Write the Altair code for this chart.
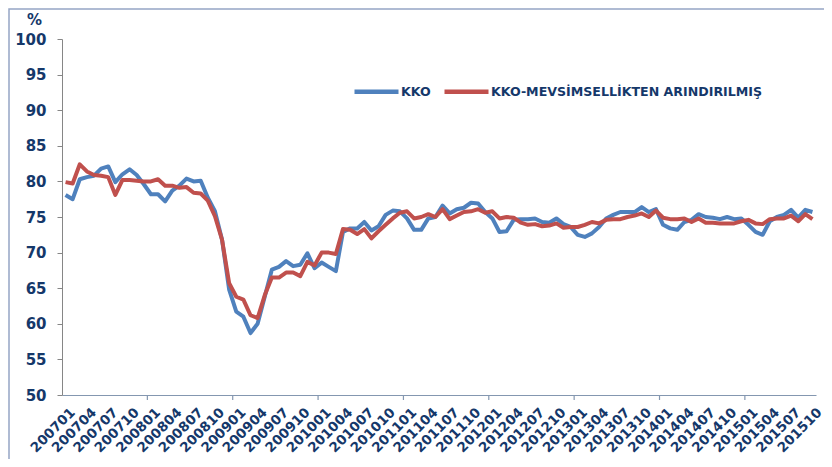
import altair as alt
import pandas as pd

months = [f"{y}{m:02d}" for y in range(2007, 2016) for m in range(1, 13)][:106]
label_months = months[::3]
tick_months = months[11::12]

kko = [
    78.1, 77.5, 80.3, 80.6, 80.8, 81.8, 82.1, 79.9, 81.0, 81.7, 80.9, 79.6,
    78.2, 78.2, 77.2, 78.7, 79.4, 80.4, 80.0, 80.1, 77.7, 75.8, 71.8, 64.8,
    61.7, 61.0, 58.7, 60.0, 63.8, 67.6, 68.0, 68.8, 68.1, 68.3, 69.9, 67.8,
    68.6, 68.0, 67.4, 72.9, 73.4, 73.4, 74.3, 73.1, 73.7, 75.3, 75.9, 75.8,
    74.8, 73.2, 73.2, 74.8, 75.0, 76.6, 75.5, 76.1, 76.3, 77.0, 76.9, 75.7,
    74.8, 72.9, 73.0, 74.6, 74.7, 74.7, 74.8, 74.3, 74.2, 74.8, 74.0, 73.6,
    72.5, 72.2, 72.7, 73.6, 74.8, 75.3, 75.7, 75.7, 75.7, 76.4, 75.7, 76.1,
    73.9, 73.4, 73.2, 74.3, 74.6, 75.4, 75.0, 74.9, 74.7, 75.0, 74.7, 74.8,
    73.9, 72.9, 72.5, 74.4, 75.0, 75.3, 76.0, 74.9, 76.0, 75.7,
]
kko_sa = [
    79.9, 79.7, 82.4, 81.4, 80.9, 80.8, 80.6, 78.1, 80.2, 80.2, 80.1, 80.0,
    80.0, 80.3, 79.4, 79.4, 79.1, 79.2, 78.4, 78.3, 77.3, 75.1, 71.8, 65.7,
    63.8, 63.4, 61.2, 60.8, 64.0, 66.5, 66.5, 67.2, 67.2, 66.7, 68.7, 68.2,
    70.0, 70.0, 69.8, 73.3, 73.2, 72.6, 73.3, 72.0, 73.0, 73.9, 74.8, 75.6,
    75.8, 74.8, 75.0, 75.4, 75.0, 76.1, 74.7, 75.2, 75.7, 75.8, 76.1, 75.6,
    75.8, 74.8, 75.0, 74.9, 74.2, 73.9, 74.0, 73.7, 73.8, 74.1, 73.5, 73.6,
    73.6, 73.9, 74.3, 74.1, 74.6, 74.7, 74.7, 75.0, 75.2, 75.5, 75.0, 75.9,
    74.9, 74.7, 74.7, 74.8, 74.3, 74.8, 74.2, 74.2, 74.1, 74.1, 74.1, 74.4,
    74.6, 74.1, 74.0, 74.7, 74.8, 74.8, 75.2, 74.4, 75.4, 74.7,
]
series_names = ["KKO", "KKO-MEVSİMSELLİKTEN ARINDIRILMIŞ"]
series_colors = ["#4F81BD", "#C0504D"]
y_ticks = [50, 55, 60, 65, 70, 75, 80, 85, 90, 95, 100]

NAVY = "#15386A"
FONT = "DejaVu Sans"
W, H = 754, 356
half_step = W / len(months) / 2

df1 = pd.DataFrame({"month": months, "value": kko, "series": series_names[0]})
df2 = pd.DataFrame({"month": months, "value": kko_sa, "series": series_names[1]})
df_ticks = pd.DataFrame({"month": tick_months})

xscale = alt.Scale(domain=months, type="point", padding=0.5)
yscale = alt.Scale(domain=[50, 100], nice=False, zero=False)
color = alt.Color(
    "series:N",
    scale=alt.Scale(domain=series_names, range=series_colors),
    legend=alt.Legend(
        title=None,
        orient="none",
        legendX=290,
        legendY=28,
        direction="horizontal",
        symbolType="stroke",
        symbolSize=1936,
        symbolStrokeWidth=4.5,
        labelFont=FONT,
        labelFontSize=12.6,
        labelFontWeight="bold",
        labelColor=NAVY,
        labelOffset=0,
        columnPadding=4,
        labelLimit=400,
    ),
)

x_axis = alt.Axis(
    values=label_months,
    labelAngle=-45,
    labelAlign="right",
    labelBaseline="middle",
    labelOffset=7,
    labelPadding=15,
    ticks=False,
    tickSize=0,
    labelFont=FONT,
    labelFontSize=13.5,
    labelFontWeight="bold",
    labelColor=NAVY,
    labelOverlap=False,
    domainColor="#8497B0",
    domainWidth=1.2,
    grid=False,
)
y_axis = alt.Axis(
    values=y_ticks,
    title="%",
    titleAngle=0,
    titleX=-28,
    titleY=-20,
    titleAlign="center",
    titleBaseline="middle",
    titleFont=FONT,
    titleFontSize=15,
    titleFontWeight="bold",
    titleColor=NAVY,
    labelFont=FONT,
    labelFontSize=15,
    labelFontWeight="bold",
    labelColor=NAVY,
    labelPadding=11,
    labelOverlap=False,
    tickSize=5,
    tickColor="#868686",
    domainColor="#868686",
    grid=False,
)

def xe():
    return alt.X("month:O", scale=xscale, title=None, axis=x_axis)

def ye():
    return alt.Y("value:Q", scale=yscale, axis=y_axis)

blue = alt.Chart(df1).mark_line(strokeWidth=4, strokeJoin="round").encode(
    x=xe(), y=ye(), color=color
)
red = alt.Chart(df2).mark_line(strokeWidth=4, strokeJoin="round").encode(
    x=xe(), y=ye(), color=color
)
ticks = alt.Chart(df_ticks).mark_rule(
    xOffset=half_step, color="#8497B0", strokeWidth=1.2
).encode(
    x=xe(), y=alt.value(H), y2=alt.value(H + 5)
)
border = alt.Chart(pd.DataFrame({"a": [0]})).mark_rect(
    fillOpacity=0, stroke="#95A5C5", strokeWidth=1.5
).encode(
    x=alt.value(-53), x2=alt.value(820), y=alt.value(-30), y2=alt.value(500)
)

chart = (
    alt.layer(border, blue, red, ticks)
    .properties(
        width=W,
        height=H,
        autosize=alt.AutoSizeParams(type="none"),
        padding={"left": 54, "top": 31, "right": 8, "bottom": 64},
        background="white",
    )
    .configure_view(stroke=None)
)

chart.save("out.html", embed_options={"renderer": "svg", "actions": False})
